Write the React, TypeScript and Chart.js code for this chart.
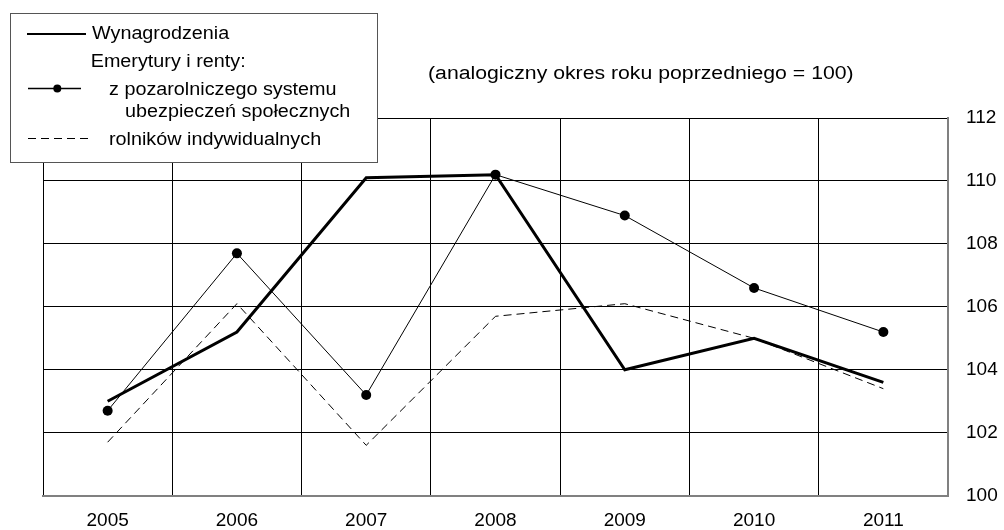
import React, { useEffect, useRef } from "react";
import { Chart, registerables } from "chart.js";

Chart.register(...registerables);

const years = ["2005", "2006", "2007", "2008", "2009", "2010", "2011"];
const wages = [103.0, 105.2, 110.1, 110.2, 104.0, 105.0, 103.6];
const pensionsNonAgri = [102.7, 107.7, 103.2, 110.2, 108.9, 106.6, 105.2];
const pensionsFarmers = [101.7, 106.1, 101.6, 105.7, 106.1, 105.0, 103.4];

const yMin = 100;
const yMax = 112;
const yStep = 2;

const subtitle = "(analogiczny okres roku poprzedniego = 100)";
const legendWages = "Wynagrodzenia";
const legendHeader = "Emerytury i renty:";
const legendNonAgri1 = "z pozarolniczego systemu";
const legendNonAgri2 = "ubezpieczeń społecznych";
const legendFarmers = "rolników indywidualnych";

const FONT = "'Liberation Sans', Arial, sans-serif";

function stretchText(ctx: CanvasRenderingContext2D, text: string, x: number, y: number, sx: number) {
  ctx.save();
  ctx.translate(x, y);
  ctx.scale(sx, 1);
  ctx.fillText(text, 0, 0);
  ctx.restore();
}

const overlayPlugin = {
  id: "overlay",
  afterDraw(chart: any) {
    const ctx: CanvasRenderingContext2D = chart.ctx;
    ctx.save();
    // subtitle
    ctx.fillStyle = "#000";
    ctx.textAlign = "left";
    ctx.textBaseline = "alphabetic";
    ctx.font = `18px ${FONT}`;
    stretchText(ctx, subtitle, 428, 78.5, 1.18);

    // legend box
    ctx.fillStyle = "#fff";
    ctx.fillRect(10.5, 13.5, 367, 149);
    ctx.strokeStyle = "#555";
    ctx.lineWidth = 1;
    ctx.strokeRect(10.5, 13.5, 367, 149);

    // solid line
    ctx.strokeStyle = "#000";
    ctx.lineWidth = 2;
    ctx.beginPath();
    ctx.moveTo(27, 34);
    ctx.lineTo(86, 34);
    ctx.stroke();

    // dot line
    ctx.lineWidth = 1.3;
    ctx.beginPath();
    ctx.moveTo(28, 88.5);
    ctx.lineTo(81, 88.5);
    ctx.stroke();
    ctx.fillStyle = "#000";
    ctx.beginPath();
    ctx.arc(57.3, 88.5, 4, 0, Math.PI * 2);
    ctx.fill();

    // dashed line
    ctx.lineWidth = 1;
    ctx.setLineDash([8, 5]);
    ctx.beginPath();
    ctx.moveTo(28, 138.5);
    ctx.lineTo(92, 138.5);
    ctx.stroke();
    ctx.setLineDash([]);

    ctx.fillStyle = "#000";
    ctx.font = `17.5px ${FONT}`;
    const sx = 1.13;
    stretchText(ctx, legendWages, 92, 39.3, sx);
    stretchText(ctx, legendHeader, 90.7, 66.7, sx);
    stretchText(ctx, legendNonAgri1, 109, 95, sx);
    stretchText(ctx, legendNonAgri2, 125, 117.3, sx);
    stretchText(ctx, legendFarmers, 109, 145, sx);
    ctx.restore();
  },
};

export default function App() {
  const ref = useRef<HTMLCanvasElement | null>(null);

  useEffect(() => {
    document.body.style.margin = "0";
    const canvas = ref.current;
    if (!canvas) return;
    const chart = new Chart(canvas, {
      type: "line",
      data: {
        labels: years,
        datasets: [
          {
            label: legendWages,
            data: wages,
            borderColor: "#000",
            borderWidth: 3,
            pointRadius: 0,
            fill: false,
            tension: 0,
          },
          {
            label: legendNonAgri1 + " " + legendNonAgri2,
            data: pensionsNonAgri,
            borderColor: "#000",
            borderWidth: 1,
            pointRadius: 5,
            pointBackgroundColor: "#000",
            pointBorderColor: "#000",
            pointBorderWidth: 0,
            fill: false,
            tension: 0,
          },
          {
            label: legendFarmers,
            data: pensionsFarmers,
            borderColor: "#000",
            borderWidth: 1,
            borderDash: [8, 5],
            pointRadius: 0,
            fill: false,
            tension: 0,
          },
        ],
      },
      options: {
        responsive: false,
        animation: false,
        layout: { padding: { left: 43, top: 118, right: 0, bottom: 0 } },
        plugins: {
          legend: { display: false },
          tooltip: { enabled: false },
          title: { display: false },
        },
        scales: {
          x: {
            type: "category",
            offset: true,
            grid: { offset: true, color: "#000", lineWidth: 1, drawTicks: false },
            border: { color: "#808080", width: 2 },
            ticks: {
              color: "#000",
              font: { family: FONT, size: 19 },
              padding: 14,
              maxRotation: 0,
              autoSkip: false,
            },
            afterFit: (s: any) => {
              s.height = 530 - 495.7;
            },
          },
          y: {
            position: "right",
            min: yMin,
            max: yMax,
            grid: { color: "#000", lineWidth: 1, drawTicks: false },
            border: { color: "#808080", width: 2 },
            ticks: {
              stepSize: yStep,
              color: "#000",
              font: { family: FONT, size: 19 },
              padding: 18,
            },
            afterFit: (s: any) => {
              s.width = 1004 - 948;
            },
          },
        },
      },
      plugins: [overlayPlugin],
    });
    return () => chart.destroy();
  }, []);

  return (
    <div style={{ width: 1004, height: 530 }}>
      <canvas ref={ref} width={1004} height={530} style={{ display: "block" }} />
    </div>
  );
}
